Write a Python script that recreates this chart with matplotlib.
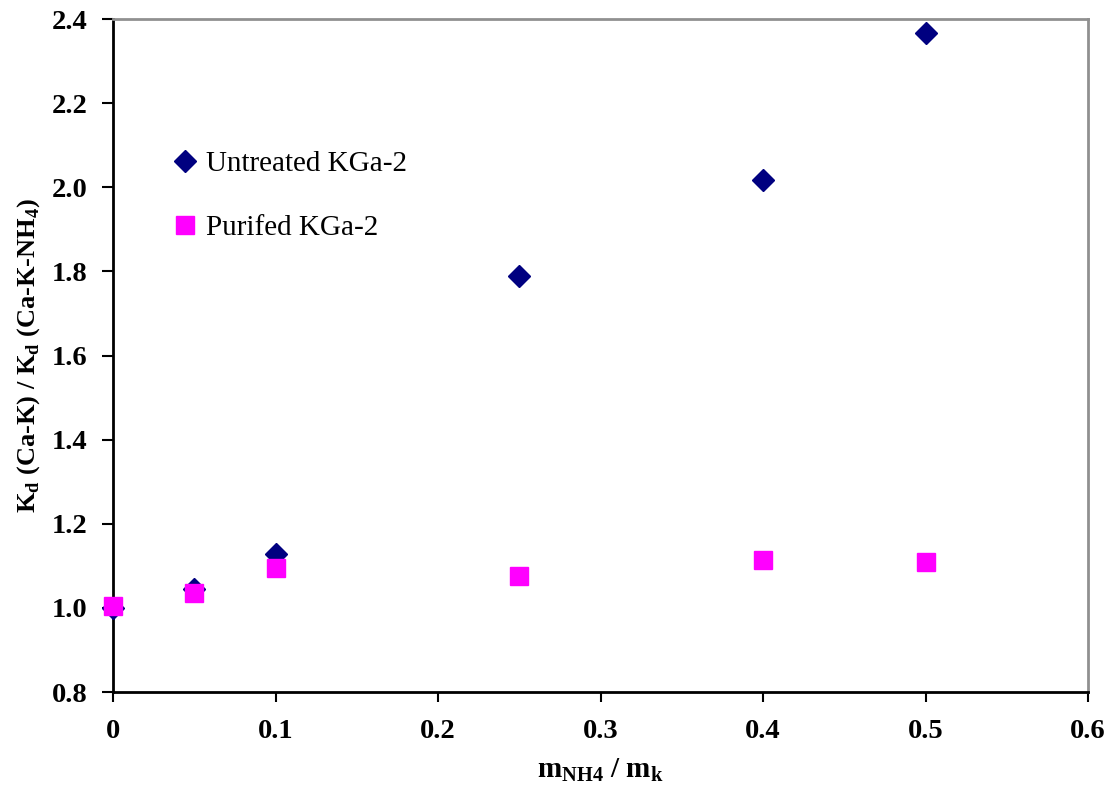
import matplotlib
matplotlib.use("Agg")
import matplotlib.pyplot as plt

plt.rcParams['font.family'] = ['Liberation Serif', 'DejaVu Serif']
plt.rcParams['mathtext.fontset'] = 'custom'
plt.rcParams['mathtext.rm'] = 'Liberation Serif'
plt.rcParams['mathtext.bf'] = 'Liberation Serif:bold'

# ratio of ammonium to potassium
x_ratio = [0, 0.05, 0.1, 0.25, 0.4, 0.5]
untreated = [1.0, 1.045, 1.128, 1.79, 2.018, 2.367]
purified = [1.005, 1.035, 1.095, 1.075, 1.115, 1.11]

xticks = [0, 0.1, 0.2, 0.3, 0.4, 0.5, 0.6]
xtick_labels = ['0', '0.1', '0.2', '0.3', '0.4', '0.5', '0.6']
yticks = [0.8, 1.0, 1.2, 1.4, 1.6, 1.8, 2.0, 2.2, 2.4]

fig = plt.figure(figsize=(11.08, 7.87), dpi=100)
ax = fig.add_axes([0.102, 0.1207, 0.880, 0.855])

ax.plot(x_ratio, untreated, linestyle='none', marker='D', markersize=11.5,
        color='#000080', label='Untreated KGa-2', clip_on=False, zorder=3)
ax.plot(x_ratio, purified, linestyle='none', marker='s', markersize=13,
        color='#FF00FF', label='Purifed KGa-2', clip_on=False, zorder=4)

ax.set_xlim(0, 0.6)
ax.set_ylim(0.8, 2.4)
ax.set_xticks(xticks)
ax.set_xticklabels(xtick_labels)
ax.set_yticks(yticks)
ax.set_yticklabels(['%.1f' % v for v in yticks])

for lab in ax.get_xticklabels() + ax.get_yticklabels():
    lab.set_fontweight('bold')
    lab.set_fontsize(20.5)

ax.tick_params(axis='y', direction='out', length=8, width=1.5, pad=10.5)
ax.tick_params(axis='x', direction='out', length=7.5, width=1.5, pad=12)

ax.spines['left'].set_linewidth(2)
ax.spines['bottom'].set_linewidth(2)
ax.spines['top'].set_color('#909090')
ax.spines['right'].set_color('#909090')
ax.spines['top'].set_linewidth(2)
ax.spines['right'].set_linewidth(2)

ax.set_xlabel(r'm$_\mathbf{NH4}$ / m$_\mathbf{k}$', fontsize=21,
              fontweight='bold', labelpad=9)
ax.set_ylabel(r'K$_\mathbf{d}$ (Ca-K) / K$_\mathbf{d}$ (Ca-K-NH$_\mathbf{4}$)',
              fontsize=19, fontweight='bold', labelpad=6.5)

ax.legend(loc='upper left', bbox_to_anchor=(0.062, 0.804), frameon=False,
          fontsize=21, numpoints=1, handlelength=0.8, handletextpad=0.3,
          labelspacing=1.29, borderpad=0, borderaxespad=0)

fig.savefig('out.png', dpi=100, facecolor='white')
